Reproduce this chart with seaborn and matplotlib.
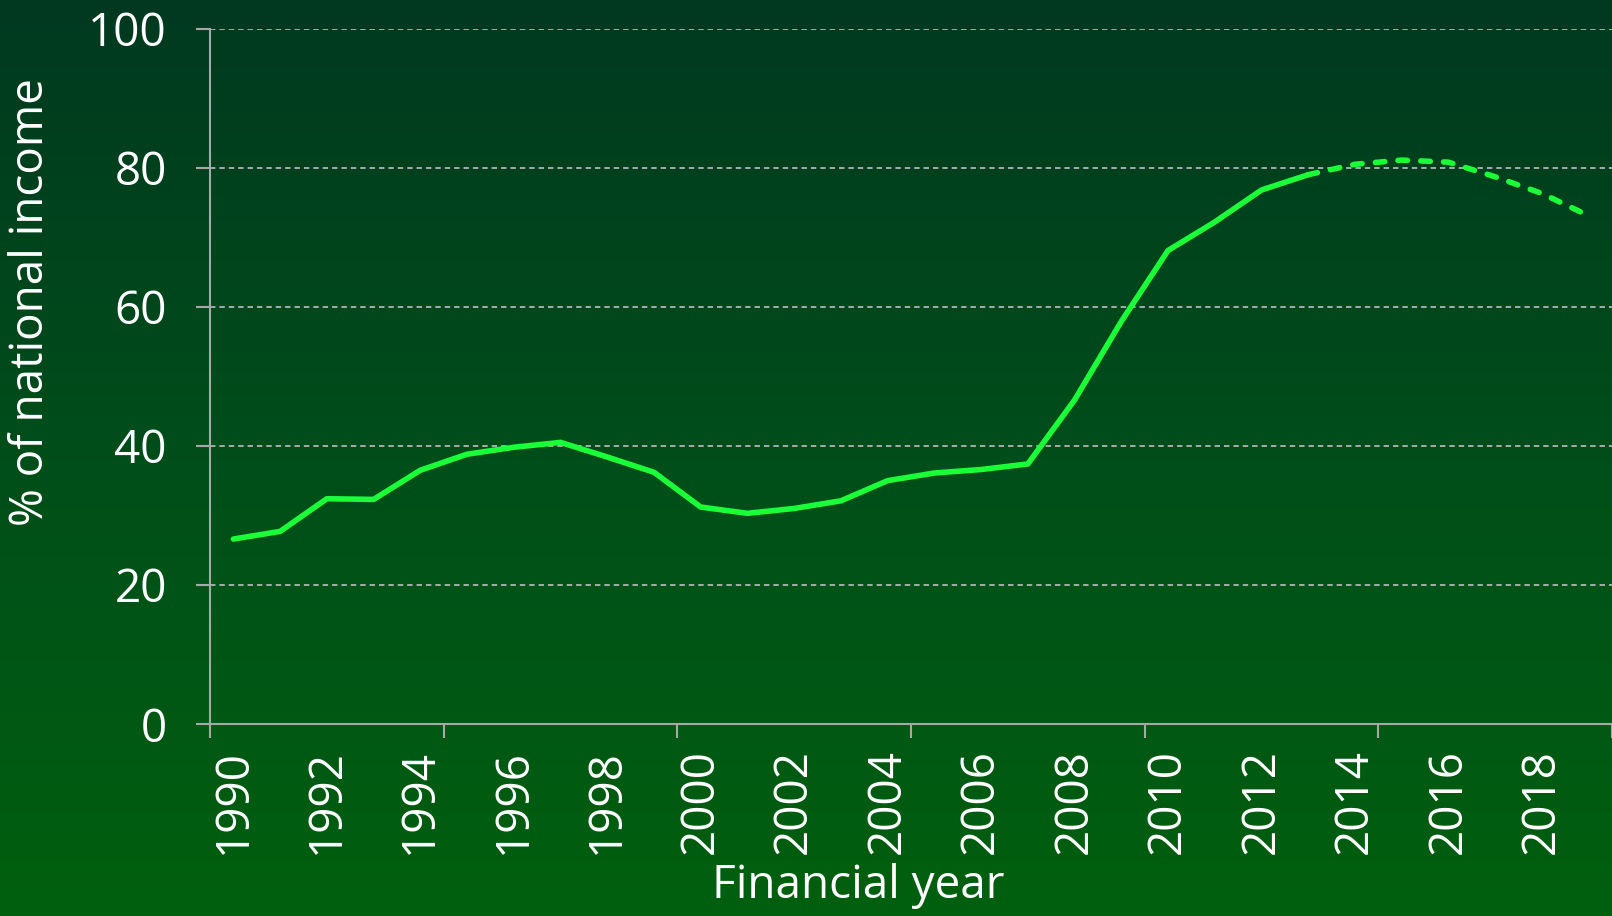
import numpy as np
import pandas as pd
import matplotlib
matplotlib.use("Agg")
import matplotlib.pyplot as plt
from matplotlib.colors import LinearSegmentedColormap
import seaborn as sns

# data (% of national income, by financial year)
years = list(range(1990, 2020))
actual_years = list(range(1990, 2014))
actual_values = [26.6, 27.7, 32.4, 32.3, 36.5, 38.8, 39.8, 40.5, 38.4, 36.2,
                 31.2, 30.3, 31.0, 32.1, 35.0, 36.1, 36.6, 37.4, 46.6, 57.9,
                 68.1, 72.2, 76.8, 79.0]
forecast_years = list(range(2013, 2020))
forecast_values = [79.0, 80.5, 81.1, 80.8, 78.7, 76.3, 73.1]
label_years = list(range(1990, 2019, 2))
y_ticks = [0, 20, 40, 60, 80, 100]

sns.set_theme(style="white")
plt.rcParams["font.family"] = ["Open Sans", "DejaVu Sans"]

line_color = "#1aff38"
axis_color = "#a8a8a8"

fig = plt.figure(figsize=(16.12, 9.16), dpi=100)

# gradient background over whole figure
bg = fig.add_axes([0, 0, 1, 1], zorder=0)
cmap = LinearSegmentedColormap.from_list("bg", ["#003920", "#004e1a", "#00600e"])
bg.imshow(np.linspace(0, 1, 256).reshape(-1, 1), aspect="auto", cmap=cmap,
          extent=[0, 1, 0, 1])
bg.set_axis_off()

ax = fig.add_axes([0.1303, 0.2096, 0.8697, 0.7591], zorder=1)
ax.patch.set_alpha(0)

df_actual = pd.DataFrame({"idx": [y - 1990 for y in actual_years], "value": actual_values})
df_fc = pd.DataFrame({"idx": [y - 1990 for y in forecast_years], "value": forecast_values})

sns.lineplot(data=df_actual, x="idx", y="value", ax=ax, color=line_color,
             linewidth=4.0, solid_capstyle="round", solid_joinstyle="round", zorder=3)
sns.lineplot(data=df_fc, x="idx", y="value", ax=ax, color=line_color,
             linewidth=4.0, dash_capstyle="round", zorder=3)
ax.lines[-1].set_dashes([1.7, 2.4])

ax.set_xlim(-0.5, 29.5)
ax.set_ylim(0, 100)

# category boundaries as major ticks, year labels as minor
ax.set_xticks(np.arange(-0.5, 30, 5))
ax.set_xticklabels([])
ax.set_xticks([y - 1990 for y in label_years], minor=True)
ax.set_xticklabels([str(y) for y in label_years], minor=True, rotation=90,
                   color="white", fontsize=33, va="top", ha="center")
ax.tick_params(axis="x", which="major", direction="out", length=10, width=1.5,
               color=axis_color, bottom=True)
ax.tick_params(axis="x", which="minor", length=0, pad=18, bottom=True)

ax.set_yticks(y_ticks)
ax.set_yticklabels([str(v) for v in y_ticks], color="white", fontsize=33)
ax.tick_params(axis="y", direction="out", length=10, width=1.5, color=axis_color,
               pad=21, left=True)

for y in y_ticks[1:]:
    ax.axhline(y, color="#b4b4b4", linewidth=1.3, linestyle=(0, (3, 2.2)), zorder=1)

sns.despine(ax=ax, top=True, right=True)
for side in ["left", "bottom"]:
    ax.spines[side].set_color(axis_color)
    ax.spines[side].set_linewidth(1.5)

ax.set_xlabel("")
ax.set_ylabel("")
ax.text(0.4625, -0.233, "Financial year", transform=ax.transAxes, color="white",
        fontsize=33, ha="center", va="center")
ax.text(-0.1278, 0.607, "% of national income", transform=ax.transAxes, color="white",
        fontsize=33, ha="center", va="center", rotation=90)

fig.savefig("out.png", dpi=100)
